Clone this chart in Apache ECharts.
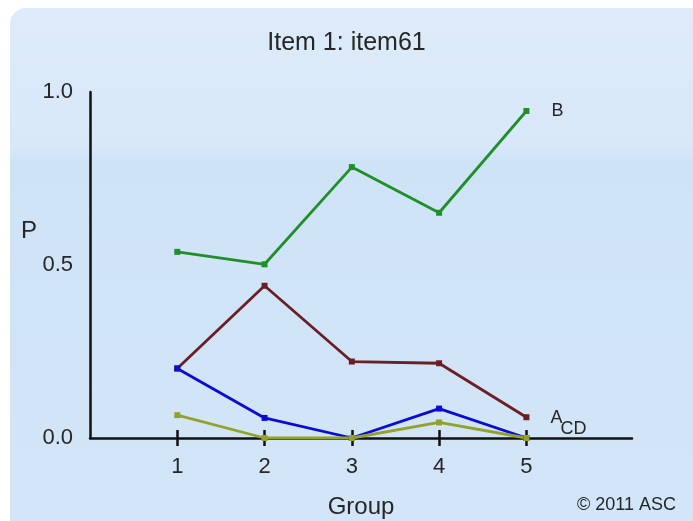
<!DOCTYPE html>
<html><head><meta charset="utf-8">
<script src="https://cdn.jsdelivr.net/npm/echarts@6/dist/echarts.min.js"></script>
<style>html,body{margin:0;padding:0;background:#fff}#c{width:693px;height:521px}</style>
</head><body><div id="c"></div>
<script>
const groups = [1, 2, 3, 4, 5];
const seriesB = [0.538, 0.502, 0.783, 0.651, 0.945];
const seriesA = [0.201, 0.44, 0.221, 0.216, 0.06];
const seriesC = [0.201, 0.058, 0.0, 0.085, 0.0];
const seriesD = [0.066, 0.0, 0.0, 0.045, 0.0];
const yTicks = [0, 0.5, 1.0];

const chart = echarts.init(document.getElementById('c'));
const pairs = arr => groups.map((g, i) => [g, arr[i]]);
const font = 'Liberation Sans, Arial, sans-serif';
const txt = '#262626';
const mk = (name, data, color, endLabel) => ({
  name, type: 'line', data: pairs(data), symbol: 'rect', symbolSize: 6,
  lineStyle: { color, width: 2.8 }, itemStyle: { color },
  endLabel: endLabel, animation: false, z: 3
});
chart.setOption({
  animation: false,
  graphic: [{
    type: 'rect', shape: { x: 10, y: 8, width: 700, height: 530, r: 16 }, z: -10,
    style: { fill: new echarts.graphic.LinearGradient(0, 0, 0, 1, [
      { offset: 0, color: '#ddebfa' }, { offset: 0.26, color: '#d8e8f9' },
      { offset: 0.29, color: '#cfe3f7' }, { offset: 1, color: '#d3e6f8' }]) }
  }, {
    type: 'text', left: 577, top: 496, z: 5,
    style: { text: '© 2011 ASC', fill: txt, font: '18px ' + font }
  }, {
    type: 'text', left: 21, top: 219, z: 5,
    style: { text: 'P', fill: txt, font: '24px ' + font }
  }],
  title: { text: 'Item 1: item61', left: 'center', top: 26,
    textStyle: { fontFamily: font, fontSize: 25, fontWeight: 'normal', color: txt } },
  grid: { left: 90, right: 61, top: 92, bottom: 83, containLabel: false, outerBoundsMode: 'none' },
  xAxis: [{
    type: 'value', min: 0, max: 6.21, interval: 1,
    name: 'Group', nameLocation: 'middle', nameGap: 57,
    nameTextStyle: { fontFamily: font, fontSize: 24, color: txt },
    axisLine: { lineStyle: { color: '#111', width: 2.5 } },
    axisTick: { show: true, inside: false, length: 8, lineStyle: { color: '#111', width: 2.5 }, customValues: groups },
    axisLabel: { customValues: groups, margin: 18, fontFamily: font, fontSize: 22, color: txt },
    splitLine: { show: false }
  }, {
    type: 'value', min: 0, max: 6.21, interval: 1, position: 'bottom',
    axisLine: { show: false },
    axisTick: { show: true, inside: true, length: 8, lineStyle: { color: '#111', width: 2.5 }, customValues: groups },
    axisLabel: { show: false }, splitLine: { show: false }
  }],
  yAxis: {
    type: 'value', min: 0, max: 1, interval: 0.5,
    axisLine: { show: true, lineStyle: { color: '#111', width: 2.5 } },
    axisTick: { show: false },
    axisLabel: { customValues: yTicks, margin: 17, fontFamily: font, fontSize: 22, color: txt, formatter: v => v.toFixed(1) },
    splitLine: { show: false }
  },
  series: [
    mk('B', seriesB, '#1f8f2a', { show: true, formatter: 'B', offset: [17, 0], fontFamily: font, fontSize: 18, color: txt }),
    mk('A', seriesA, '#6b1e24', { show: true, formatter: 'A', offset: [16, 1], fontFamily: font, fontSize: 18, color: txt }),
    mk('C', seriesC, '#0b0bd8', { show: true, formatter: 'CD', offset: [26, -9], fontFamily: font, fontSize: 18, color: txt }),
    mk('D', seriesD, '#93a22a', { show: false })
  ]
});
</script></body></html>
